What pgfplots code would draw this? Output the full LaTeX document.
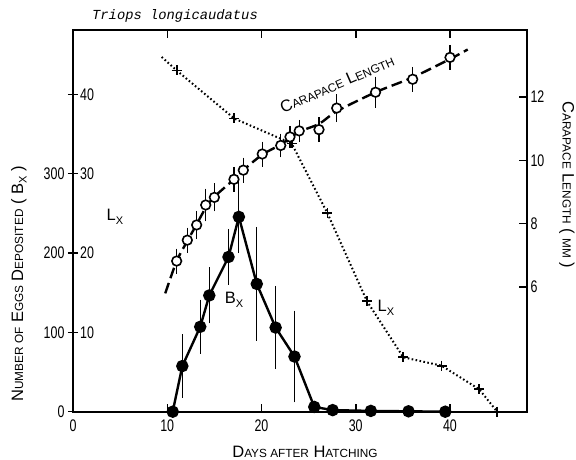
\documentclass[border=0pt]{standalone}
\usepackage{pgfplots}
\pgfplotsset{compat=1.18}
\usepackage{pgfplotstable}
\usepackage{fontspec}
\setmainfont{Liberation Sans}
\newfontfamily\tickfamily{Liberation Sans}[FakeStretch=0.74]
\newfontfamily\titlefamily{Liberation Mono}
\newcommand\tickfont{\tickfamily\fontsize{16.8}{18}\selectfont}
\newcommand\labfont{\fontsize{16.5}{18}\selectfont}
\newcommand\SC[1]{{\fontsize{11.8}{12}\selectfont #1}}
\newcommand\sub[1]{\lower3.5pt\hbox{\fontsize{11}{11}\selectfont #1}}

% Bx: eggs deposited
\pgfplotstableread{
x y e
10.58 0 0
11.6 57.5 36
13.5 107 30.5
14.46 146.5 31.5
16.5 195 31.5
17.6 245.5 42
19.5 161 68
21.5 106 48.7
23.5 69.5 54
25.6 6 0
27.55 2 0
31.6 1 0
35.6 0.5 0
39.5 0 0
}\bx

% carapace length (mm)
\pgfplotstableread{
x y e
11.0 6.82 0.3
12.13 7.48 0.3
13.12 7.96 0.35
14.08 8.59 0.42
15.0 8.83 0.35
17.08 9.40 0.3
18.07 9.69 0.3
20.08 10.2 0.3
22.04 10.47 0.28
23.02 10.74 0.25
24.0 10.93 0.25
26.1 10.97 0.3
27.98 11.65 0.35
32.1 12.15 0.4
36.04 12.56 0.3
40.0 13.25 0.3
}\cara

% dashed trend line of carapace length
\pgfplotstableread{
x y
9.79 5.8
11.0 6.82
12.13 7.45
13.12 7.98
14.08 8.5
15.0 8.85
17.08 9.4
18.07 9.69
20.08 10.18
22.04 10.5
24.0 10.9
26.1 11.15
28.0 11.55
32.1 12.15
36.04 12.62
40.0 13.2
41.88 13.5
}\caraline

% Lx
\pgfplotstableread{
x y
9.41 44.7
11.0 43.0
17.1 36.95
23.2 33.8
27.0 25.0
31.2 13.9
35.05 6.85
39.1 5.8
43.1 2.83
45.0 0
}\lx

\pgfplotsset{base/.style={at={(73pt,48.3pt)}, anchor=south west, scale only axis,
  width=454pt, height=381.7pt, xmin=0, xmax=48.17}}

\begin{document}
\begin{tikzpicture}
\useasboundingbox (0,0) rectangle (576pt,460pt);

% Lx axis (hidden)
\begin{axis}[base, ymin=0, ymax=48.1, hide axis, clip=false]
\addplot[black, line width=2pt, dash pattern=on 1.6pt off 2.4pt,
  mark=+, mark size=5pt, mark indices={2,3,4,5,6,7,8,9,10},
  mark options={solid, line width=1.9pt}] table[x=x,y=y]{\lx};
\end{axis}

% eggs axis (left)
\begin{axis}[base, ymin=0, ymax=481, clip=false,
  axis line style={line width=1.8pt},
  tick align=center, major tick length=10pt,
  every tick/.style={line width=1.5pt, black},
  ytick={0,100,200,300,400}, yticklabels={0,100,200,300,{}}, ytick pos=left,
  xtick={0,10,20,30,40}, xticklabels={0,10,20,30,40}, xtick pos=bottom,
  xtick style={draw=none},
  tick label style={font=\tickfont}]
\addplot[black, line width=2.4pt, mark=*, mark size=5pt, mark options={solid},
  error bars/.cd, y dir=both, y explicit,
  error bar style={line width=0.9pt},
  error mark options={line width=0.9pt, mark size=3pt}]
  table[x=x,y=y,y error=e]{\bx};
\node[anchor=west, inner sep=0pt, font=\tickfont] at (axis cs:0,100) [xshift=7pt] {10};
\node[anchor=west, inner sep=0pt, font=\tickfont] at (axis cs:0,200) [xshift=7pt] {20};
\node[anchor=west, inner sep=0pt, font=\tickfont] at (axis cs:0,300) [xshift=7pt] {30};
\node[anchor=west, inner sep=0pt, font=\tickfont] at (axis cs:0,400) [xshift=7pt] {40};
\end{axis}

% carapace axis (right)
\begin{axis}[base, ymin=2.063, ymax=14.116,
  axis line style={line width=1.8pt},
  tick align=inside, major tick length=8pt,
  every tick/.style={line width=1.5pt, black},
  xtick={10,20,30,40}, xticklabels={,,,}, xtick pos=both,
  ytick={6,8,10,12}, yticklabels={6,8,10,12}, ytick pos=right,
  tick label style={font=\tickfont}]
\addplot[black, line width=2.4pt, dash pattern=on 11pt off 5pt, smooth, no marks]
  table[x=x,y=y]{\caraline};
\addplot[only marks, mark=*, mark size=4.8pt,
  mark options={fill=white, draw=black, line width=1.6pt},
  error bars/.cd, y dir=both, y explicit,
  error bar style={line width=1.2pt, black},
  error mark options={line width=1.2pt, mark size=3pt, black}]
  table[x=x,y=y,y error=e]{\cara};
\end{axis}

% texts
\node[font=\titlefamily\itshape\fontsize{13.8}{15}\selectfont] at (175pt,444pt) {Triops longicaudatus};
\node[font=\labfont, rotate=90] at (19pt,176pt) {N\SC{UMBER OF} E\SC{GGS} D\SC{EPOSITED} ( B\sub{X} )};
\node[font=\labfont] at (305pt,8pt) {D\SC{AYS AFTER} H\SC{ATCHING}};
\node[font=\labfont, rotate=-90] at (567pt,275pt) {C\SC{ARAPACE} L\SC{ENGTH} ( \SC{MM} )};
\node[font=\labfont, rotate=23.5] at (337pt,376pt) {C\SC{ARAPACE} L\SC{ENGTH}};
\node[font=\labfont] at (115pt,243pt) {L\sub{X}};
\node[font=\labfont] at (234pt,160pt) {B\sub{X}};
\node[font=\labfont] at (386pt,152pt) {L\sub{X}};
\end{tikzpicture}
\end{document}
